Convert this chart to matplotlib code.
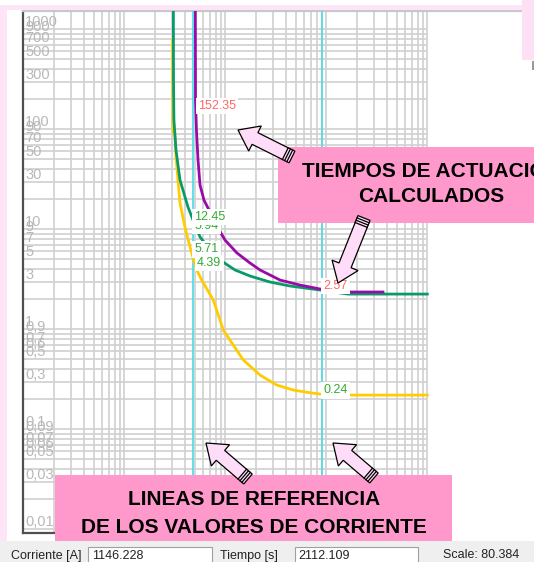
import matplotlib
matplotlib.use('Agg')
import matplotlib.pyplot as plt
from matplotlib.patches import Rectangle, Polygon
from matplotlib.lines import Line2D
from matplotlib.ticker import NullLocator
import numpy as np

# ---------------- data (current [A], time [s]) ----------------
purple_I = [505, 507, 518, 537, 562, 615, 706, 847, 993, 1306, 1757, 2206, 3480, 5494, 8665, 16400, 36400]
purple_t = [2000, 196, 98.4, 49.3, 27.7, 19.6, 14.9, 10.3, 7.81, 5.79, 4.60, 3.92, 3.11, 2.77, 2.53, 2.36, 2.36]

green_I = [306, 307, 310, 325, 356, 427, 479, 562, 706, 886, 1248, 1757, 2772, 4373, 8665, 16400, 100000]
green_t = [2000, 311, 124, 62.1, 31.1, 16.7, 12.4, 8.38, 6.21, 4.93, 3.92, 3.41, 2.97, 2.71, 2.47, 2.25, 2.25]

yellow_I = [300, 303, 318, 325, 340, 356, 399, 447, 521, 584, 761, 955, 1508, 2206, 3228, 4713, 6900, 8665, 16400, 100000]
yellow_t = [781, 98.4, 83.8, 52.8, 31.1, 18.3, 10.5, 6.65, 3.92, 3.11, 1.96, 0.984, 0.493, 0.349, 0.277, 0.247, 0.232, 0.225, 0.220, 0.220]

ref_currents = [480, 9070]

label_texts = ['5.94', '152.35', '12.45', '5.71', '4.39', '2.57', '0.24']
label_times = [10.9, 171, 13.3, 6.3, 4.6, 2.72, 0.245]
label_ref = [0, 0, 0, 0, 0, 1, 1]
label_colors = ['#33aa33', '#ff6666', '#33aa33', '#33aa33', '#33aa33', '#ff6666', '#33aa33']
label_dx_px = [1, 5, 1, 1, 4, 1, 1]

ytick_vals = [1000, 900, 700, 500, 300, 100, 90, 70, 50, 30, 10, 9, 7, 5, 3,
              1, 0.9, 0.7, 0.6, 0.5, 0.3, 0.1, 0.09, 0.07, 0.06, 0.05, 0.03, 0.01]
ytick_labels = ['1000', '900', '700', '500', '300', '100', '90', '70', '50', '30', '10', '9', '7', '5', '3',
                '1', '0,9', '0,7', '0,6', '0,5', '0,3', '0,1', '0,09', '0,07', '0,06', '0,05', '0,03', '0,01']

status_values = ['1146.228', '2112.109', '80.384']

# ---------------- figure ----------------
W, H = 534, 562
fig = plt.figure(figsize=(W / 100, H / 100), dpi=100)
fig.patch.set_facecolor('white')


def F(x, y):
    return (x / W, 1 - y / H)


def frect(x0, y0, x1, y1, **kw):
    r = Rectangle(F(x0, y1), (x1 - x0) / W, (y1 - y0) / H, transform=fig.transFigure, **kw)
    fig.patches.append(r)
    return r


# window decorations
frect(0, 5, 522, 10, fc='#fde4f6', ec='none', zorder=0)
frect(0, 5, 7, 541, fc='#fde4f6', ec='none', zorder=0)
frect(522, 0, 534, 60, fc='#fde0f4', ec='none', zorder=0)
frect(532, 61, 534, 70, fc='#999999', ec='none', zorder=0)

# axes in pixel box
ax_left, ax_right, ax_top, ax_bot = 23.3, 522, 11, 533
ax = fig.add_axes([ax_left / W, 1 - ax_bot / H, (ax_right - ax_left) / W, (ax_bot - ax_top) / H])
ax.set_xscale('log')
ax.set_yscale('log')
xmin = 10
xmax = xmin * 10 ** ((ax_right - ax_left) / 101)
ymax = 10 ** (3 + (29.3 - ax_top) / 100)
ymin = 10 ** (3 - (ax_bot - 29.3) / 100)
ax.set_xlim(xmin, xmax)
ax.set_ylim(ymin, ymax)
for axis in (ax.xaxis, ax.yaxis):
    axis.set_major_locator(NullLocator())
    axis.set_minor_locator(NullLocator())
ax.set_facecolor('white')

grid_c = '#d0d0d0'
xg = [m * 10 ** k for k in range(1, 5) for m in range(1, 10)] + [1e5]
yg = [m * 10.0 ** k for k in range(-2, 3) for m in range(1, 10)] + [1000]
ax.vlines(xg, ymin, ymax, colors=grid_c, lw=1.2, zorder=1)
ax.hlines(yg, 10, 1e5, colors=grid_c, lw=1.2, zorder=1)

for s in ('left', 'bottom'):
    ax.spines[s].set_color('#505050')
    ax.spines[s].set_linewidth(1.6)
ax.spines['bottom'].set_bounds(10, 1e5)
ax.spines['top'].set_color('#c8c8c8')
ax.spines['top'].set_linewidth(1.6)
ax.spines['right'].set_visible(False)

# y labels
for v, lab in zip(ytick_vals, ytick_labels):
    ax.text(10.45, v, lab, fontsize=10.5, color='#b8b8b8', family='Liberation Sans',
            ha='left', va='bottom', zorder=2)

# reference lines
for rc in ref_currents:
    ax.axvline(rc, color='#55dde6', lw=1.3, zorder=3)

# curves
ax.plot(yellow_I, yellow_t, color='#ffcc00', lw=2.0, zorder=4, solid_joinstyle='round')
ax.plot(green_I, green_t, color='#0a9a6a', lw=2.0, zorder=5, solid_joinstyle='round')
ax.plot(purple_I, purple_t, color='#9a0aa8', lw=2.0, zorder=6, solid_joinstyle='round')

# value labels
for i, (txt, t, r, c, dx) in enumerate(zip(label_texts, label_times, label_ref, label_colors, label_dx_px)):
    ax.annotate(txt, xy=(ref_currents[r], t), xytext=(dx * 0.72, 0), textcoords='offset points',
                fontsize=9, color=c, family='Liberation Sans', ha='left', va='center',
                bbox=dict(boxstyle='square,pad=0.18', fc='white', ec='none'), zorder=10 + i)


# annotation boxes
frect(278, 147, 540, 223, fc='#ff99cc', ec='none', zorder=20)
frect(55, 475, 452, 548, fc='#ff99cc', ec='none', zorder=20)
tkw = dict(fontsize=15, fontweight='bold', family='Liberation Sans', color='black',
           ha='center', va='baseline', transform=fig.transFigure, zorder=21)
fig.text(*F(431.5, 176.7), 'TIEMPOS DE ACTUACION', **tkw)
fig.text(*F(431.5, 201.7), 'CALCULADOS', **tkw)
fig.text(*F(254, 505), 'LINEAS DE REFERENCIA', **tkw)
fig.text(*F(254, 533.3), 'DE LOS VALORES DE CORRIENTE', **tkw)


def block_arrow(tail, tip, shaft_w=13, head_w=28, head_len=19):
    t = np.array(tail, float)
    p = np.array(tip, float)
    d = p - t
    u = d / np.hypot(*d)
    n = np.array([-u[1], u[0]])
    base = p - u * head_len
    pts = [t + n * shaft_w / 2, base + n * shaft_w / 2, base + n * head_w / 2, p,
           base - n * head_w / 2, base - n * shaft_w / 2, t - n * shaft_w / 2]
    poly = Polygon([F(*q) for q in pts], closed=True, fc='#ffddf8', ec='black', lw=0.9,
                   transform=fig.transFigure, zorder=30)
    fig.patches.append(poly)
    for s in (2.5, 5, 7.5):
        a = t + u * s + n * shaft_w / 2
        b = t + u * s - n * shaft_w / 2
        fig.lines.append(Line2D([F(*a)[0], F(*b)[0]], [F(*a)[1], F(*b)[1]], color='black', lw=0.9,
                                transform=fig.transFigure, zorder=31))


block_arrow((292, 157), (238, 130))
block_arrow((364, 218), (338, 283))
block_arrow((248, 479), (206, 443))
block_arrow((374, 478), (333, 443))

# status bar
frect(0, 541, 534, 562, fc='#efefef', ec='none', zorder=40)
frect(88, 547, 212, 563, fc='white', ec='#a0a0a0', lw=0.8, zorder=41)
frect(295, 547, 418, 563, fc='white', ec='#a0a0a0', lw=0.8, zorder=41)
skw = dict(fontsize=9, family='Liberation Sans', color='#222222', ha='left', va='center',
           transform=fig.transFigure, zorder=42)
fig.text(*F(11, 555.5), 'Corriente [A]', **skw)
fig.text(*F(92, 556), status_values[0], **skw)
fig.text(*F(220, 555.5), 'Tiempo [s]', **skw)
fig.text(*F(298, 556), status_values[1], **skw)
fig.text(*F(443, 555.5), 'Scale: ' + status_values[2], **skw)

fig.savefig('out.png', dpi=100, facecolor='white')
